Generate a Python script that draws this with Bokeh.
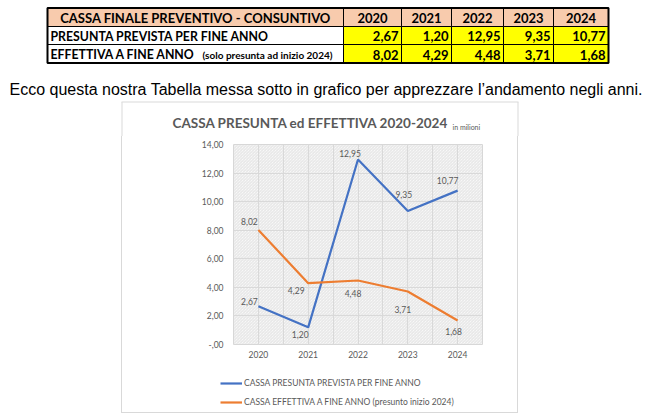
from bokeh.plotting import figure
from bokeh.models import Range1d, FixedTicker, Legend, LegendItem, BoxAnnotation, Spacer
from bokeh.layouts import column, row
from bokeh.core.properties import value
from bokeh.embed import file_html
from bokeh.resources import INLINE

# ---------------- data ----------------
years = [2020, 2021, 2022, 2023, 2024]
presunta = [2.67, 1.20, 12.95, 9.35, 10.77]
effettiva = [8.02, 4.29, 4.48, 3.71, 1.68]
y_ticks = [0, 2, 4, 6, 8, 10, 12, 14]
y_tick_labels = ["-,00", "2,00", "4,00", "6,00", "8,00", "10,00", "12,00", "14,00"]

table_header = "CASSA FINALE PREVENTIVO - CONSUNTIVO"
row1_label = "PRESUNTA PREVISTA PER FINE ANNO"
row2_label = "EFFETTIVA A FINE ANNO"
row2_note = "(solo presunta ad inizio 2024)"
caption = "Ecco questa nostra Tabella messa sotto in grafico per apprezzare l\u2019andamento negli anni."
chart_title = "CASSA PRESUNTA ed EFFETTIVA 2020-2024"
chart_unit = "in milioni"
legend_labels = ["CASSA PRESUNTA PREVISTA PER FINE ANNO",
                 "CASSA EFFETTIVA A FINE ANNO (presunto inizio 2024)"]


def fmt(v):
    return f"{v:.2f}".replace(".", ",")


# ---------------- styles ----------------
BLUE = "#4472C4"
ORANGE = "#ED7D31"
GREY = "#595959"
BOX = "#d9d9d9"
FONT = "Lato"

# ---------------- top: table + caption + chart title ----------------
TOP_H = 136
top = figure(width=651, height=TOP_H, x_range=Range1d(0, 651), y_range=Range1d(TOP_H, 0),
             x_axis_type=None, y_axis_type=None, output_backend="svg", title=None,
             toolbar_location=None, min_border=0)
top.grid.visible = False
top.outline_line_color = None

col_edges = [47, 343, 401, 451, 503, 553, 608]
row_edges = [7.5, 26, 44, 62.5]

top.quad(left=col_edges[:-1], right=col_edges[1:], top=[row_edges[0]] * 6,
         bottom=[row_edges[1]] * 6, fill_color="#F8CBAD", line_color="black", line_width=1)
for r in (1, 2):
    top.quad(left=[col_edges[0]], right=[col_edges[1]], top=[row_edges[r]],
             bottom=[row_edges[r + 1]], fill_color="white", line_color="black", line_width=1)
    top.quad(left=col_edges[1:-1], right=col_edges[2:], top=[row_edges[r]] * 5,
             bottom=[row_edges[r + 1]] * 5, fill_color="#FFFF00", line_color="black", line_width=1)
top.quad(left=[col_edges[0]], right=[col_edges[-1]], top=[row_edges[0]], bottom=[row_edges[-1]],
         fill_alpha=0, line_color="black", line_width=2)

mid = [17, 35.5, 54]
col_mid = [(col_edges[i] + col_edges[i + 1]) / 2 for i in range(6)]


def ttext(x, y, t, size, align, bold=True, font=FONT, color="black", baseline="middle"):
    top.text(x=x, y=y, text=t, text_font=value(font),
             text_font_style="bold" if bold else "normal", text_font_size=size,
             text_align=align, text_baseline=baseline, text_color=color)


ttext([col_mid[0]], [mid[0]], [table_header], "13px", "center")
ttext(col_mid[1:], [mid[0]] * 5, [str(y) for y in years], "13px", "center")
ttext([col_edges[0] + 3], [mid[1]], [row1_label], "12.3px", "left")
ttext([col_edges[0] + 3], [mid[2]], [row2_label], "12.3px", "left")
ttext([col_edges[1] - 11], [mid[2] + 0.5], [row2_note], "10px", "right")
ttext([e - 3 for e in col_edges[2:]], [mid[1]] * 5, [fmt(v) for v in presunta], "13px", "right")
ttext([e - 3 for e in col_edges[2:]], [mid[2]] * 5, [fmt(v) for v in effettiva], "13px", "right")

ttext([9], [88.7], [caption], "16px", "left", bold=False, font="Liberation Sans",
      baseline="alphabetic")

# chart box: top edge and upper part of the sides
top.segment(x0=[121, 121.5, 517.5], y0=[101.5, 101.5, 101.5],
            x1=[518, 121.5, 517.5], y1=[101.5, TOP_H, TOP_H], line_color=BOX, line_width=1)
ttext([172], [122], [chart_title], "13.5px", "left", color=GREY)
ttext([452], [126], [chart_unit], "7px", "left", bold=False, color=GREY, baseline="alphabetic")

# ---------------- chart ----------------
CH_BOTTOM = 365
CH_H = CH_BOTTOM - TOP_H
p = figure(width=395, height=CH_H, x_range=Range1d(2019.5, 2024.5), y_range=Range1d(0, 14),
           output_backend="svg", toolbar_location=None, title=None,
           min_border_left=111, min_border_right=35, min_border_top=8,
           min_border_bottom=CH_BOTTOM - 344)
p.background_fill_color = "white"
p.border_fill_color = "white"
p.outline_line_color = BOX

hatch = BoxAnnotation(fill_alpha=0, line_alpha=0, hatch_pattern="\\", hatch_color="#c4c4c4",
                      hatch_scale=3, hatch_weight=0.5, level="image")
p.add_layout(hatch)

grid_x = sorted(set([y - 0.5 for y in years] + years + [years[-1] + 0.5]))
p.xgrid.ticker = FixedTicker(ticks=grid_x)
p.ygrid.ticker = FixedTicker(ticks=y_ticks)
p.grid.grid_line_color = BOX
p.grid.grid_line_width = 1

p.xaxis.ticker = FixedTicker(ticks=years)
p.yaxis.ticker = FixedTicker(ticks=y_ticks)
p.yaxis.major_label_overrides = dict(zip(y_ticks, y_tick_labels))
for ax in (p.xaxis, p.yaxis):
    ax.axis_line_color = None
    ax.major_tick_line_color = None
    ax.minor_tick_line_color = None
    ax.major_tick_out = 0
    ax.major_tick_in = 0
    ax.minor_tick_out = 0
    ax.major_label_text_color = GREY
    ax.major_label_text_font = FONT
    ax.major_label_text_font_size = "8.5px"
p.xaxis.major_label_standoff = 6
p.yaxis.major_label_standoff = 10

r1 = p.line(years, presunta, line_color=BLUE, line_width=2.2)
r2 = p.line(years, effettiva, line_color=ORANGE, line_width=2.2)

blue_dx = [-9, -8, -8, -4, -10]
blue_dy = [-5, 7, -6, -16, -10]
orange_dx = [-9, -12, -5, -5, -4]
orange_dy = [-8, 7, 13, 18, 11]
p.text(x=years, y=presunta, text=[fmt(v) for v in presunta], x_offset=blue_dx, y_offset=blue_dy,
       text_font=value(FONT), text_font_size="8.5px", text_color=GREY,
       text_align="center", text_baseline="middle")
p.text(x=years, y=effettiva, text=[fmt(v) for v in effettiva], x_offset=orange_dx,
       y_offset=orange_dy, text_font=value(FONT), text_font_size="8.5px", text_color=GREY,
       text_align="center", text_baseline="middle")

# ---------------- legend strip ----------------
LG_H = 412 - CH_BOTTOM
lg = figure(width=395, height=LG_H, x_range=Range1d(0, 1), y_range=Range1d(0, 1),
            x_axis_type=None, y_axis_type=None, output_backend="svg", title=None,
            toolbar_location=None, min_border=0)
lg.grid.visible = False
lg.outline_line_color = None
lg.background_fill_color = "white"
# the same series, outside this strip's visible range: only their legend keys show
k1 = lg.line(years, presunta, line_color=BLUE, line_width=2.2)
k2 = lg.line(years, effettiva, line_color=ORANGE, line_width=2.2)
legend = Legend(items=[LegendItem(label=legend_labels[0], renderers=[k1]),
                       LegendItem(label=legend_labels[1], renderers=[k2])],
                location=(98, 3), orientation="vertical", border_line_color=None,
                background_fill_alpha=0, padding=0, margin=0, spacing=5,
                label_height=14, glyph_height=14, glyph_width=22, label_standoff=2,
                label_text_font=FONT, label_text_font_size="8.5px", label_text_color=GREY)
lg.add_layout(legend)


def vline(h):
    return Spacer(width=1, height=h, styles={"background-color": BOX})


layout = column(
    top,
    row(Spacer(width=121, height=CH_H), vline(CH_H), p, vline(CH_H)),
    row(Spacer(width=121, height=LG_H), vline(LG_H), lg, vline(LG_H)),
    row(Spacer(width=121, height=1), Spacer(width=397, height=1, styles={"background-color": BOX})),
)
open("out.html", "w").write(file_html(layout, INLINE))
